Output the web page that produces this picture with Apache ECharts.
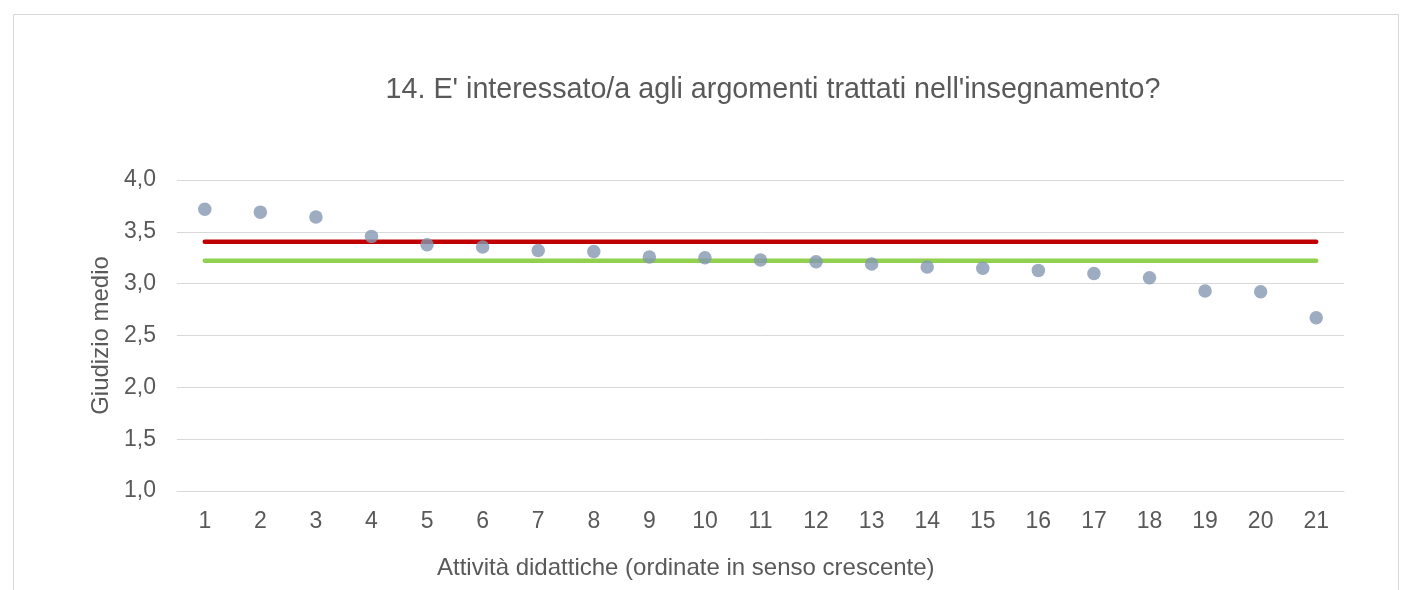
<!DOCTYPE html>
<html><head><meta charset="utf-8">
<script src="https://cdn.jsdelivr.net/npm/echarts@6/dist/echarts.min.js"></script>
<style>html,body{margin:0;padding:0;background:#fff}#c{width:1412px;height:590px}</style>
</head><body><div id="c"></div>
<script>
const categories = ['1','2','3','4','5','6','7','8','9','10','11','12','13','14','15','16','17','18','19','20','21'];
const giudizio = [3.717,3.69,3.643,3.456,3.376,3.353,3.32,3.31,3.257,3.25,3.228,3.212,3.19,3.16,3.148,3.128,3.099,3.057,2.929,2.922,2.671];
const redLevel = 3.405;
const greenLevel = 3.221;
const yTicks = [1.0,1.5,2.0,2.5,3.0,3.5,4.0];

const chart = echarts.init(document.getElementById('c'), null, {renderer:'canvas'});
const font = 'Liberation Sans, Arial, sans-serif';
chart.setOption({
  animation:false,
  backgroundColor:'#fff',
  title:{text:"14. E' interessato/a agli argomenti trattati nell'insegnamento?",left:768,top:71,textAlign:'center',
    textStyle:{fontFamily:font,fontSize:28.7,fontWeight:'normal',color:'#595959'}},
  graphic:[
    {type:'rect',shape:{x:13.5,y:14.5,width:1385,height:600},style:{fill:null,stroke:'#D9D9D9',lineWidth:1},silent:true,z:-1},
    {type:'text',left:437,top:556,style:{text:'Attività didattiche (ordinate in senso crescente)',font:'24px '+font,fill:'#595959'}}
  ],
  grid:{left:177,right:68,top:180,bottom:99,containLabel:false},
  xAxis:{type:'category',data:categories,boundaryGap:true,
    axisLine:{show:true,lineStyle:{color:'#D9D9D9'}},axisTick:{show:false},
    axisLabel:{fontFamily:font,fontSize:23,color:'#595959',margin:19},splitLine:{show:false}},
  yAxis:{type:'value',min:yTicks[0],max:yTicks[yTicks.length-1],interval:0.5,
    name:'Giudizio medio',nameLocation:'middle',nameGap:62,
    nameTextStyle:{fontFamily:font,fontSize:24,color:'#595959'},
    axisLine:{show:false},axisTick:{show:false},
    axisLabel:{fontFamily:font,fontSize:23,color:'#595959',margin:21,formatter:v=>v.toFixed(1).replace('.',',')},
    splitLine:{lineStyle:{color:'#D9D9D9',width:1}}},
  series:[
    {type:'line',data:categories.map(()=>redLevel),symbol:'none',lineStyle:{color:'#C00000',width:4.5,cap:'round'},z:2},
    {type:'line',data:categories.map(()=>greenLevel),symbol:'none',lineStyle:{color:'#92D050',width:4.5,cap:'round'},z:2},
    {type:'scatter',data:giudizio,symbol:'circle',symbolSize:13.5,itemStyle:{color:'#8497B0'},z:3}
  ]
});
</script></body></html>
